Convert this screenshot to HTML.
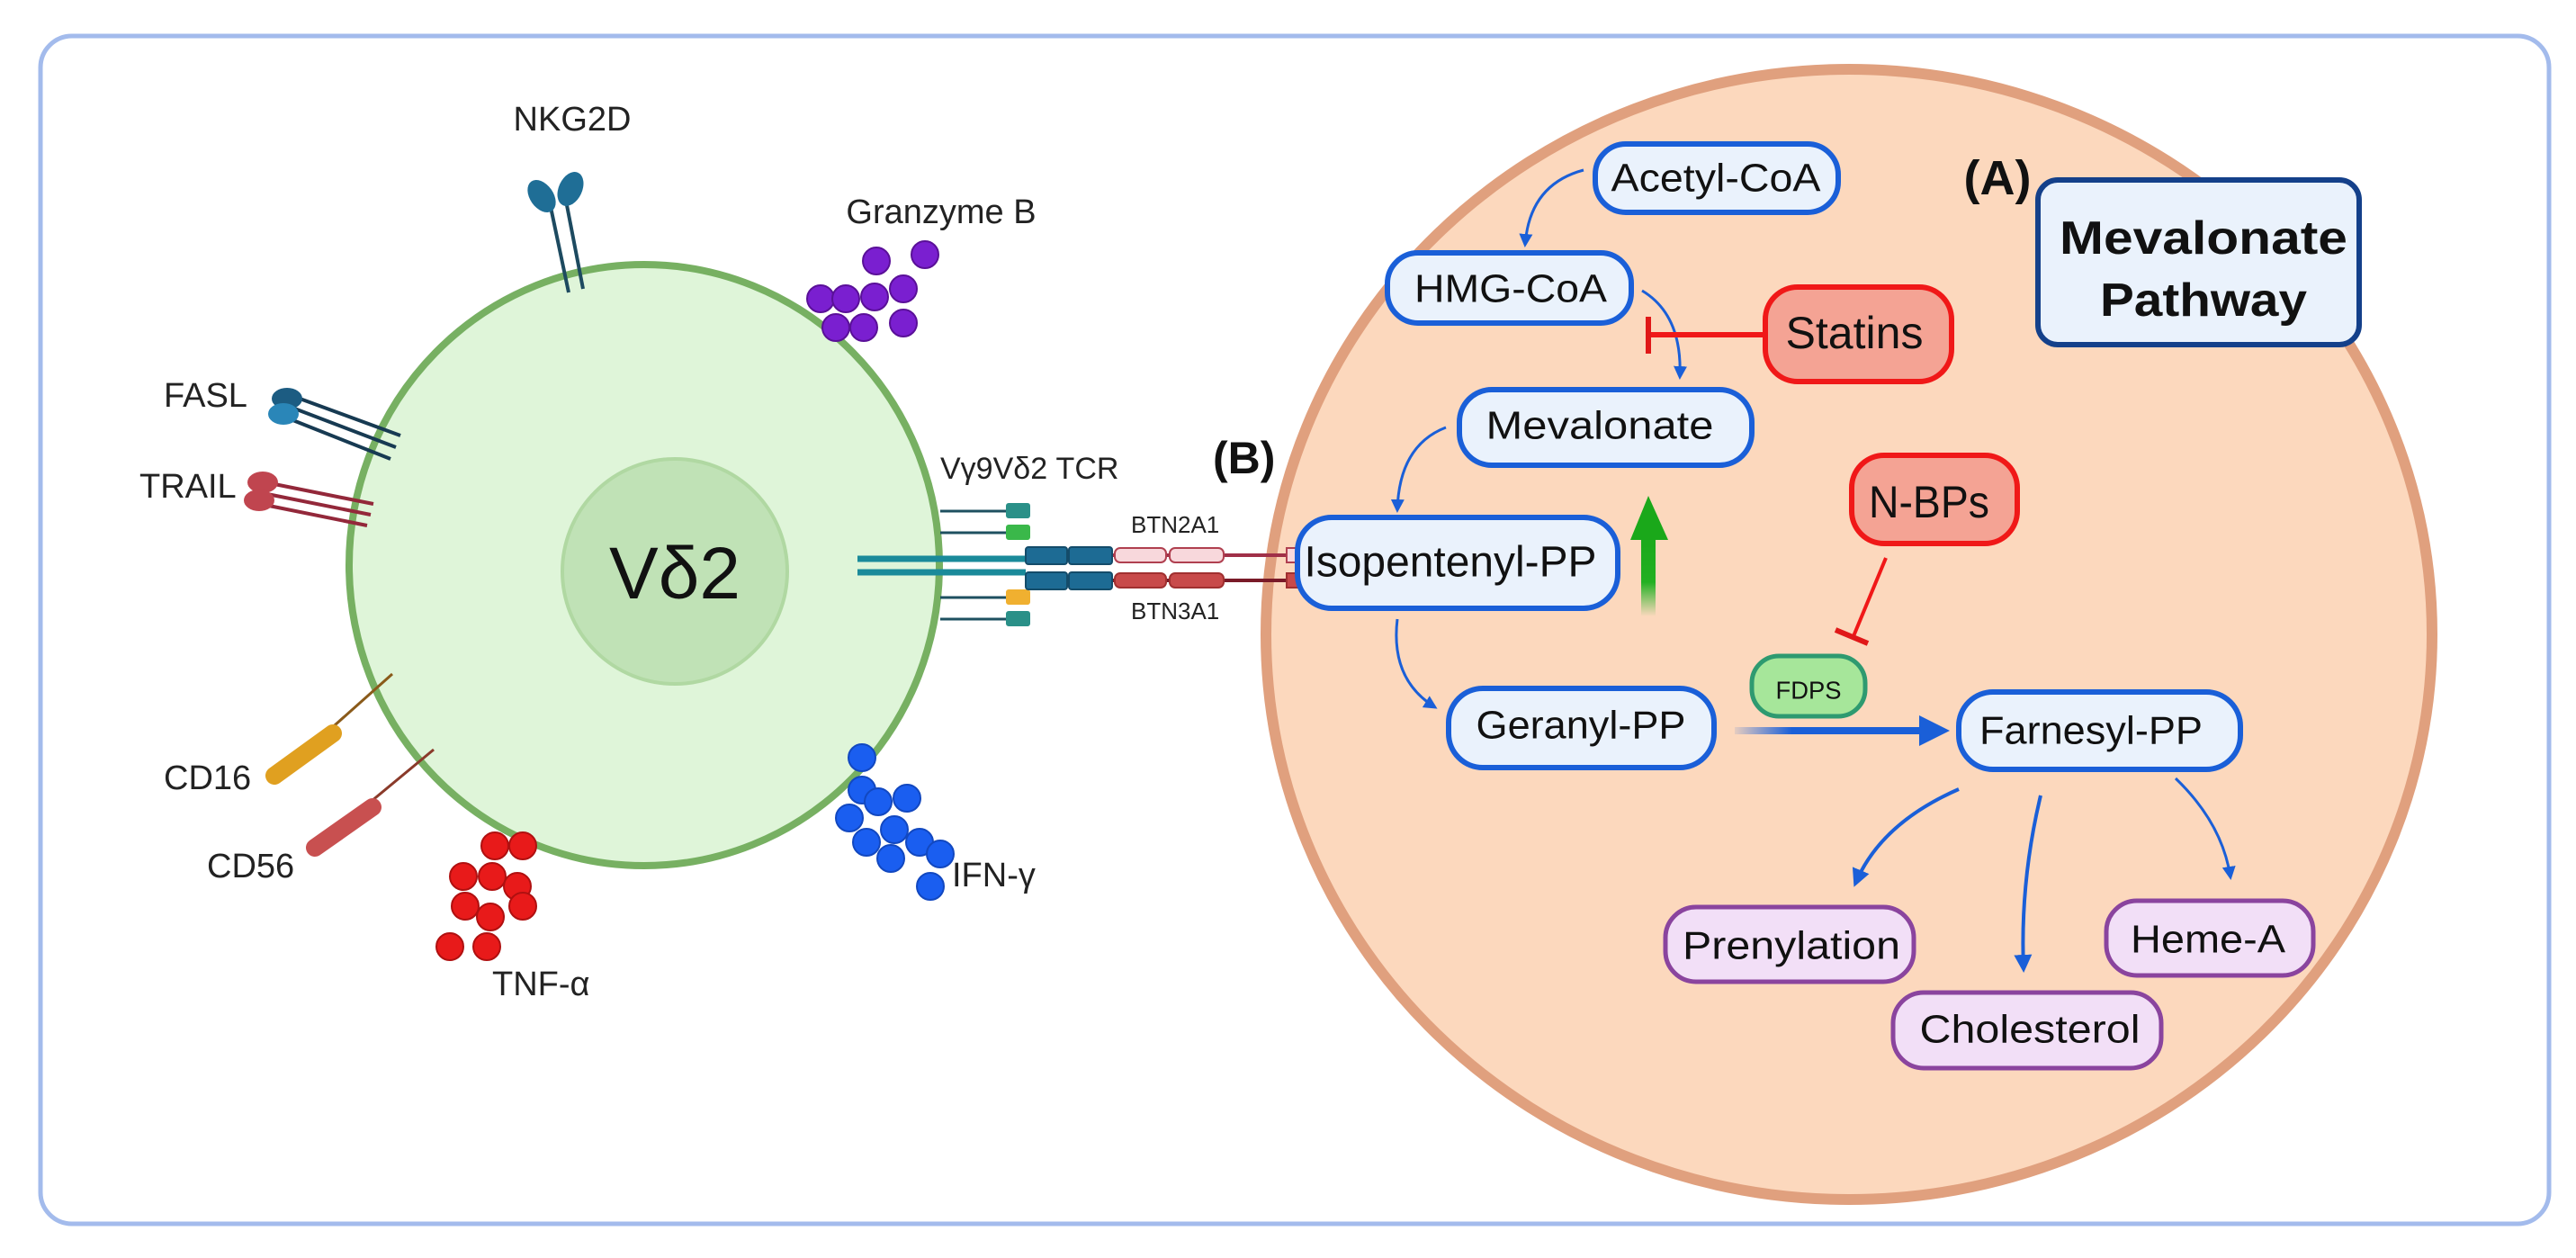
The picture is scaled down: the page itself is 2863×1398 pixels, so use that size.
<!DOCTYPE html>
<html><head><meta charset="utf-8"><style>
html,body{margin:0;padding:0;background:#fff;}
svg{display:block;}
text{font-family:"Liberation Sans",sans-serif;}
</style></head><body>
<svg width="2863" height="1398" viewBox="0 0 2863 1398" xmlns="http://www.w3.org/2000/svg">
<defs>
<marker id="ab" viewBox="0 0 10 10" refX="8" refY="5" markerWidth="5" markerHeight="5" orient="auto"><path d="M0,0 L10,5 L0,10 z" fill="#1a5fd8"/></marker>
<linearGradient id="gg" x1="0" y1="1" x2="0" y2="0"><stop offset="0" stop-color="#2db52d" stop-opacity="0"/><stop offset="0.4" stop-color="#22b022"/><stop offset="1" stop-color="#1aa81a"/></linearGradient>
<linearGradient id="bg" x1="0" y1="0" x2="1" y2="0"><stop offset="0" stop-color="#1a5fd8" stop-opacity="0.1"/><stop offset="0.3" stop-color="#1a5fd8"/></linearGradient>
</defs>
<rect x="45" y="40" width="2788" height="1320" rx="35" fill="#fff" stroke="#a3bbec" stroke-width="5"/>

<!-- right cell -->
<ellipse cx="2055" cy="705" rx="648" ry="628" fill="#fcd8bd" stroke="#e0a07e" stroke-width="12"/>

<!-- left cell -->
<ellipse cx="716" cy="628" rx="328" ry="334" fill="#dff5d9" stroke="#77b062" stroke-width="8"/>
<circle cx="750" cy="635" r="125" fill="#c0e2b6" stroke="#b0d8a2" stroke-width="4"/>
<text x="750" y="665" font-size="82" text-anchor="middle" fill="#111">Vδ2</text>

<!-- NKG2D -->
<line x1="612" y1="230" x2="632" y2="325" stroke="#1d4a60" stroke-width="4"/>
<line x1="630" y1="228" x2="648" y2="321" stroke="#1d4a60" stroke-width="4"/>
<ellipse cx="602" cy="218" rx="13" ry="20" transform="rotate(-35 602 218)" fill="#1f6e96"/>
<ellipse cx="634" cy="210" rx="13" ry="20" transform="rotate(25 634 210)" fill="#1f6e96"/>
<text x="636" y="145" font-size="38" text-anchor="middle" fill="#222">NKG2D</text>

<!-- Granzyme B -->
<text x="1046" y="248" font-size="38" text-anchor="middle" fill="#222">Granzyme B</text>
<g fill="#7a1fd0" stroke="#5a1098" stroke-width="2">
<circle cx="974" cy="290" r="15"/><circle cx="1028" cy="283" r="15"/><circle cx="912" cy="332" r="15"/><circle cx="940" cy="332" r="15"/><circle cx="972" cy="330" r="15"/><circle cx="1004" cy="321" r="15"/><circle cx="929" cy="364" r="15"/><circle cx="960" cy="364" r="15"/><circle cx="1004" cy="359" r="15"/>
</g>

<!-- FASL -->
<text x="182" y="452" font-size="38" fill="#222">FASL</text>
<g stroke="#173a52" stroke-width="4"><line x1="325" y1="440" x2="445" y2="484"/><line x1="322" y1="452" x2="440" y2="497"/><line x1="318" y1="464" x2="434" y2="510"/></g>
<ellipse cx="319" cy="443" rx="17" ry="12" fill="#1c5c82"/><ellipse cx="315" cy="460" rx="17" ry="12" fill="#2a86b8"/>

<!-- TRAIL -->
<text x="155" y="553" font-size="38" fill="#222">TRAIL</text>
<g stroke="#93283a" stroke-width="4"><line x1="295" y1="536" x2="415" y2="560"/><line x1="292" y1="548" x2="412" y2="572"/><line x1="289" y1="560" x2="408" y2="584"/></g>
<ellipse cx="292" cy="536" rx="17" ry="12" fill="#c0454f"/><ellipse cx="288" cy="556" rx="17" ry="12" fill="#c0454f"/>

<!-- CD16 -->
<line x1="345" y1="830" x2="436" y2="749" stroke="#8a5a1a" stroke-width="3"/>
<line x1="305" y1="862" x2="370" y2="815" stroke="#e0a020" stroke-width="20" stroke-linecap="round"/>
<text x="182" y="877" font-size="38" fill="#222">CD16</text>
<!-- CD56 -->
<line x1="395" y1="905" x2="482" y2="833" stroke="#8a3a2a" stroke-width="3"/>
<line x1="350" y1="942" x2="414" y2="897" stroke="#c85050" stroke-width="20" stroke-linecap="round"/>
<text x="230" y="975" font-size="38" fill="#222">CD56</text>

<!-- TNF -->
<g fill="#e81a1a" stroke="#b01010" stroke-width="2">
<circle cx="550" cy="940" r="15"/><circle cx="581" cy="940" r="15"/><circle cx="515" cy="974" r="15"/><circle cx="547" cy="974" r="15"/><circle cx="575" cy="985" r="15"/><circle cx="517" cy="1007" r="15"/><circle cx="545" cy="1019" r="15"/><circle cx="581" cy="1007" r="15"/><circle cx="500" cy="1052" r="15"/><circle cx="541" cy="1052" r="15"/>
</g>
<text x="547" y="1106" font-size="38" fill="#222">TNF-α</text>

<!-- IFN -->
<g fill="#1a5ef0" stroke="#1248c0" stroke-width="2">
<circle cx="958" cy="842" r="15"/><circle cx="958" cy="878" r="15"/><circle cx="976" cy="891" r="15"/><circle cx="1008" cy="887" r="15"/><circle cx="944" cy="909" r="15"/><circle cx="994" cy="922" r="15"/><circle cx="963" cy="936" r="15"/><circle cx="1022" cy="936" r="15"/><circle cx="990" cy="954" r="15"/><circle cx="1045" cy="949" r="15"/><circle cx="1034" cy="985" r="15"/>
</g>
<text x="1058" y="985" font-size="38" fill="#222">IFN-γ</text>

<!-- TCR -->
<text x="1045" y="532" font-size="34" fill="#222">Vγ9Vδ2 TCR</text>
<text x="1348" y="526" font-size="50" font-weight="bold" fill="#111">(B)</text>
<g stroke="#1e5060" stroke-width="3">
<line x1="1045" y1="568" x2="1118" y2="568"/><line x1="1045" y1="592" x2="1118" y2="592"/>
<line x1="1045" y1="664" x2="1118" y2="664"/><line x1="1045" y1="688" x2="1118" y2="688"/>
</g>
<rect x="1118" y="559" width="27" height="17" rx="3" fill="#2a9088"/>
<rect x="1118" y="583" width="27" height="17" rx="3" fill="#3ab84a"/>
<rect x="1118" y="655" width="27" height="17" rx="3" fill="#f0b030"/>
<rect x="1118" y="679" width="27" height="17" rx="3" fill="#2a9088"/>
<line x1="953" y1="621" x2="1140" y2="621" stroke="#1a8a9a" stroke-width="7"/>
<line x1="953" y1="636" x2="1140" y2="636" stroke="#1a8a9a" stroke-width="7"/>
<line x1="1236" y1="617" x2="1450" y2="617" stroke="#a03048" stroke-width="4"/>
<line x1="1236" y1="645" x2="1450" y2="645" stroke="#7a1a28" stroke-width="4"/>
<g fill="#1d6b94" stroke="#144c6a" stroke-width="2">
<rect x="1140" y="608" width="46" height="19" rx="3"/><rect x="1188" y="608" width="48" height="19" rx="3"/>
<rect x="1140" y="636" width="46" height="19" rx="3"/><rect x="1188" y="636" width="48" height="19" rx="3"/>
</g>
<g fill="#f8d8dc" stroke="#b04050" stroke-width="2"><rect x="1239" y="609" width="57" height="16" rx="6"/><rect x="1300" y="609" width="60" height="16" rx="6"/></g>
<g fill="#c84a4a" stroke="#a03030" stroke-width="2"><rect x="1239" y="637" width="57" height="16" rx="6"/><rect x="1300" y="637" width="60" height="16" rx="6"/></g>
<rect x="1430" y="609" width="16" height="16" fill="#f8d8dc" stroke="#b04050" stroke-width="2"/>
<rect x="1430" y="637" width="16" height="16" fill="#c84a4a" stroke="#a03030" stroke-width="2"/>
<text x="1257" y="592" font-size="26" fill="#222">BTN2A1</text>
<text x="1257" y="688" font-size="26" fill="#222">BTN3A1</text>

<!-- pathway arrows -->
<g fill="none" stroke="#1a5fd8" stroke-width="3" marker-end="url(#ab)">
<path d="M1760,189 Q1700,205 1695,272"/>
<path d="M1825,323 Q1870,350 1867,419"/>
<path d="M1607,475 Q1555,495 1553,567"/>
<path d="M1553,688 Q1545,755 1595,786"/>
<path d="M2177,877 Q2090,915 2062,982" stroke-width="4"/>
<path d="M2268,884 Q2245,980 2249,1077" stroke-width="4"/>
<path d="M2418,865 Q2470,915 2479,975"/>
</g>
<rect x="1928" y="808" width="212" height="8" fill="url(#bg)"/>
<path d="M2133,795 L2167,812 L2133,829 z" fill="#1a5fd8"/>
<!-- green arrow -->
<rect x="1824" y="590" width="16" height="95" fill="url(#gg)"/>
<path d="M1812,600 L1832,551 L1854,600 z" fill="#1aa81a"/>
<!-- inhibitions -->
<line x1="1960" y1="372" x2="1832" y2="372" stroke="#f01818" stroke-width="6"/>
<line x1="1832" y1="352" x2="1832" y2="393" stroke="#e01818" stroke-width="6"/>
<line x1="2096" y1="620" x2="2060" y2="707" stroke="#f01818" stroke-width="4"/>
<line x1="2040" y1="700" x2="2076" y2="715" stroke="#e01818" stroke-width="6"/>

<!-- nodes -->
<g fill="#eaf2fc" stroke="#1a5fd8" stroke-width="6">
<rect x="1773" y="160" width="270" height="76" rx="34"/>
<rect x="1542" y="281" width="271" height="78" rx="34"/>
<rect x="1622" y="433" width="325" height="84" rx="36"/>
<rect x="1442" y="575" width="356" height="101" rx="38"/>
<rect x="1610" y="765" width="295" height="88" rx="38"/>
<rect x="2177" y="769" width="313" height="86" rx="38"/>
</g>
<g fill="#f4a394" stroke="#f01818" stroke-width="6">
<rect x="1962" y="319" width="207" height="105" rx="36"/>
<rect x="2058" y="506" width="184" height="98" rx="36"/>
</g>
<rect x="1947" y="729" width="126" height="67" rx="30" fill="#a6e69a" stroke="#2e9a70" stroke-width="5"/>
<g fill="#f2dff7" stroke="#8a449e" stroke-width="5">
<rect x="1851" y="1008" width="276" height="83" rx="34"/>
<rect x="2341" y="1001" width="230" height="83" rx="34"/>
<rect x="2104" y="1103" width="298" height="84" rx="34"/>
</g>
<rect x="2265" y="200" width="357" height="183" rx="22" fill="#eaf2fc" stroke="#14408a" stroke-width="6"/>

<g fill="#111" font-size="44" text-anchor="middle" dominant-baseline="central">
<text x="1907" y="198" textLength="233" lengthAdjust="spacingAndGlyphs">Acetyl-CoA</text>
<text x="1679" y="321" textLength="214" lengthAdjust="spacingAndGlyphs">HMG-CoA</text>
<text x="1778" y="473" textLength="253" lengthAdjust="spacingAndGlyphs">Mevalonate</text>
<text x="1612" y="625" textLength="325" lengthAdjust="spacingAndGlyphs" font-size="48">Isopentenyl-PP</text>
<text x="1757" y="806" textLength="233" lengthAdjust="spacingAndGlyphs">Geranyl-PP</text>
<text x="2324" y="812" textLength="248" lengthAdjust="spacingAndGlyphs">Farnesyl-PP</text>
<text x="2061" y="370" textLength="153" lengthAdjust="spacingAndGlyphs" font-size="50">Statins</text>
<text x="2144" y="558" textLength="134" lengthAdjust="spacingAndGlyphs" font-size="50">N-BPs</text>
<text x="2010" y="767" textLength="73" lengthAdjust="spacingAndGlyphs" font-size="28">FDPS</text>
<text x="1991" y="1051" textLength="242" lengthAdjust="spacingAndGlyphs">Prenylation</text>
<text x="2454" y="1044" textLength="172" lengthAdjust="spacingAndGlyphs">Heme-A</text>
<text x="2256" y="1144" textLength="245" lengthAdjust="spacingAndGlyphs">Cholesterol</text>
<text x="2449" y="265" textLength="320" lengthAdjust="spacingAndGlyphs" font-size="52" font-weight="bold">Mevalonate</text>
<text x="2449" y="334" textLength="230" lengthAdjust="spacingAndGlyphs" font-size="52" font-weight="bold">Pathway</text>
<text x="2220" y="198" font-size="54" font-weight="bold">(A)</text>
</g>
</svg>
</body></html>
